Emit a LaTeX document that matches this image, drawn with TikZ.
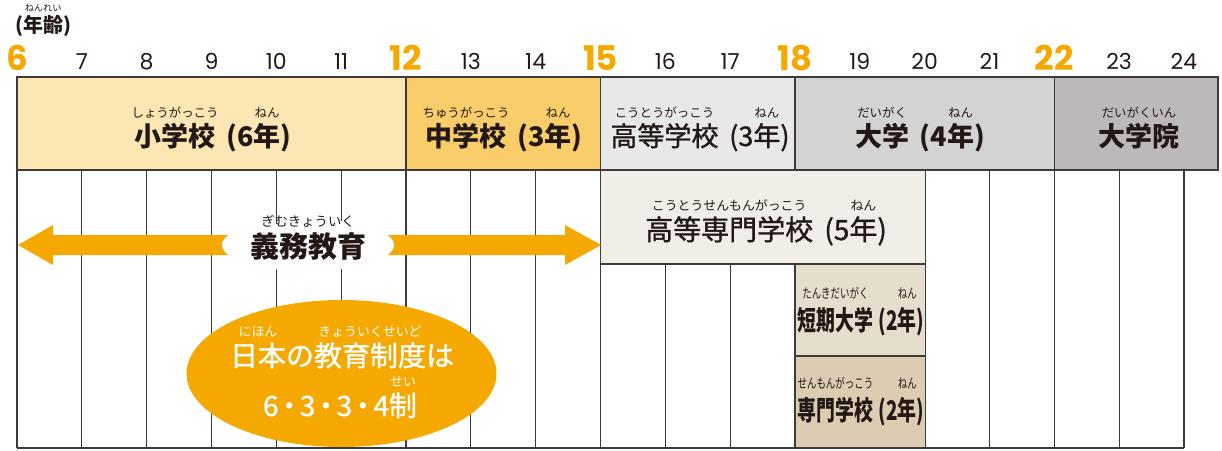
\documentclass[tikz,border=0pt]{standalone}
\usepackage{fontspec}
\usepackage{graphicx}
\newfontfamily\jp{Noto Sans CJK JP}
\newfontfamily\jpm{Noto Sans CJK JP}[FakeBold=1.2]
\newfontfamily\num{Poppins}
\definecolor{orng}{HTML}{F5A900}
\definecolor{ink}{HTML}{231815}
\definecolor{lc}{HTML}{3E3A39}
\definecolor{cES}{HTML}{FCE6B4}
\definecolor{cJH}{HTML}{F9CD6A}
\definecolor{cHS}{HTML}{E8E8E8}
\definecolor{cUN}{HTML}{D4D3D3}
\definecolor{cGR}{HTML}{BDB9B8}
\definecolor{cKS}{HTML}{F2EDE7}
\definecolor{cTD}{HTML}{E6DECC}
\definecolor{cSG}{HTML}{DBCCB2}
\newdimen\rbA \newdimen\rbB \newbox\rbbox
\def\rbraise{1.05}
\def\rbscale{0.46}
\newcommand\rb[2]{\setbox\rbbox\hbox{#1}\rbA=\rbraise em\rbB=\rbscale em\edef\rbsz{\the\rbB}%
  \leavevmode\rlap{\hbox to\wd\rbbox{\hss\raisebox{\rbA}{\jp\fontsize{\rbsz}{\rbsz}\selectfont\mdseries #2}\hss}}\box\rbbox}
\begin{document}
\begin{tikzpicture}[x=1pt,y=-1pt,
  gline/.style={draw=lc, line width=1.2pt},
  boxr/.style={draw=lc, line width=1.3pt},
  txt/.style={inner sep=0pt, anchor=base, text=ink, font=\jp\fontsize{27}{27}\selectfont},
  agenum/.style={inner sep=0pt, anchor=base, text=ink, font=\num\fontsize{22}{22}\selectfont},
  agebig/.style={inner sep=0pt, anchor=base, text=orng, font=\num\bfseries\fontsize{34}{34}\selectfont}]
\useasboundingbox (0,0) rectangle (1222,450);
% age header
\node[txt, anchor=base west, font=\jp\bfseries\fontsize{20}{20}\selectfont] (agettl) at (15,32) {(\rb{年齢}{ねんれい})};
\foreach \k/\a in {1/7,2/8,3/9,4/10,5/11,7/13,8/14,10/16,11/17,13/19,14/20,15/21,17/23,18/24}
  \node[agenum] (age\a) at ({17+64.83*\k},69) {\a};
\foreach \k/\a in {0/6,6/12,9/15,12/18,16/22}
  \node[agebig] (age\a) at ({17+64.83*\k},70) {\a};
% lower grid lines
\foreach \k in {0,...,9,14,15,16,17,18}
  \draw[gline] ({17+64.83*\k},170) -- ({17+64.83*\k},448);
\foreach \k in {10,11}
  \draw[gline] ({17+64.83*\k},264) -- ({17+64.83*\k},448);
% top boxes
\draw[boxr, fill=cES] (17,77) rectangle (406,170);
\draw[boxr, fill=cJH] (406,77) rectangle (600.5,170);
\draw[boxr, fill=cHS] (600.5,77) rectangle (795,170);
\draw[boxr, fill=cUN] (795,77) rectangle (1054.3,170);
\draw[boxr, fill=cGR] (1054.3,77) rectangle (1218,170);
% lower boxes
\draw[boxr, fill=cKS] (600.5,170) rectangle (925.2,264);
\draw[boxr, fill=cTD] (795,264) rectangle (925.2,356);
\draw[boxr, fill=cSG] (795,356) rectangle (925.2,448);
% top labels
\node[txt, font=\jp\bfseries\fontsize{27}{27}\selectfont] (es) at (213,146) {\rb{小学校}{しょうがっこう}\kern0.4em(6\rb{年}{ねん})};
\node[txt, font=\jp\bfseries\fontsize{27}{27}\selectfont] (jh) at (504,146) {\rb{中学校}{ちゅうがっこう}\kern0.4em(3\rb{年}{ねん})};
\node[txt, font=\jpm\fontsize{27}{27}\selectfont] (hs) at (700,146) {\rb{高等学校}{こうとうがっこう}\kern0.4em(3\rb{年}{ねん})};
\node[txt, font=\jp\bfseries\fontsize{27}{27}\selectfont] (un) at (920,146) {\rb{大学}{だいがく}\kern0.4em(4\rb{年}{ねん})};
\node[txt, font=\jp\bfseries\fontsize{27}{27}\selectfont] (gr) at (1139,146) {\rb{大学院}{だいがくいん}};
\node[txt, font=\jpm\fontsize{28}{28}\selectfont] (ks) at (766,240) {\rb{高等専門学校}{こうとうせんもんがっこう}\kern0.4em(5\rb{年}{ねん})};
\node[txt, font=\jp\bfseries\fontsize{27}{27}\selectfont] (td) at (861,330) {\def\rbraise{1.15}\def\rbscale{0.5}\scalebox{0.7}[1]{\rb{短期大学}{たんきだいがく}\kern0.3em(2\rb{年}{ねん})}};
\node[txt, font=\jp\bfseries\fontsize{27}{27}\selectfont] (sg) at (861,420) {\def\rbraise{1.15}\def\rbscale{0.5}\scalebox{0.7}[1]{\rb{専門学校}{せんもんがっこう}\kern0.3em(2\rb{年}{ねん})}};
% compulsory education arrows
\coordinate (lt) at (18,245);
\coordinate (rt) at (601,245);
\fill[orng] (lt) -- (53,225) -- (53,235) -- (232,235) -- (232,255) -- (53,255) -- (53,265) -- cycle;
\fill[orng] (rt) -- (565,225) -- (565,235) -- (386,235) -- (386,255) -- (565,255) -- (565,265) -- cycle;
\fill[white] (308,245) ellipse [x radius=86, y radius=26];
\node[txt, font=\jp\bfseries\fontsize{29}{29}\selectfont] (gimu) at (308,257) {\rb{義務教育}{ぎむきょういく}};
% ellipse
\fill[orng] (341.5,373.5) ellipse [x radius=155, y radius=73.5];
\draw[gline] (17,448) -- (1184,448);
\node[txt, text=white, font=\jpm\fontsize{28}{28}\selectfont] (sys1) at (342,366) {\rb{日本}{にほん}の\rb{教育制度}{きょういくせいど}は};
\node[txt, text=white, font=\jpm\fontsize{28}{28}\selectfont] (sys2) at (340,416) {6\kern-0.12em・\kern-0.12em3\kern-0.12em・\kern-0.12em3\kern-0.12em・\kern-0.12em4\rb{制}{せい}};
\end{tikzpicture}
\end{document}
